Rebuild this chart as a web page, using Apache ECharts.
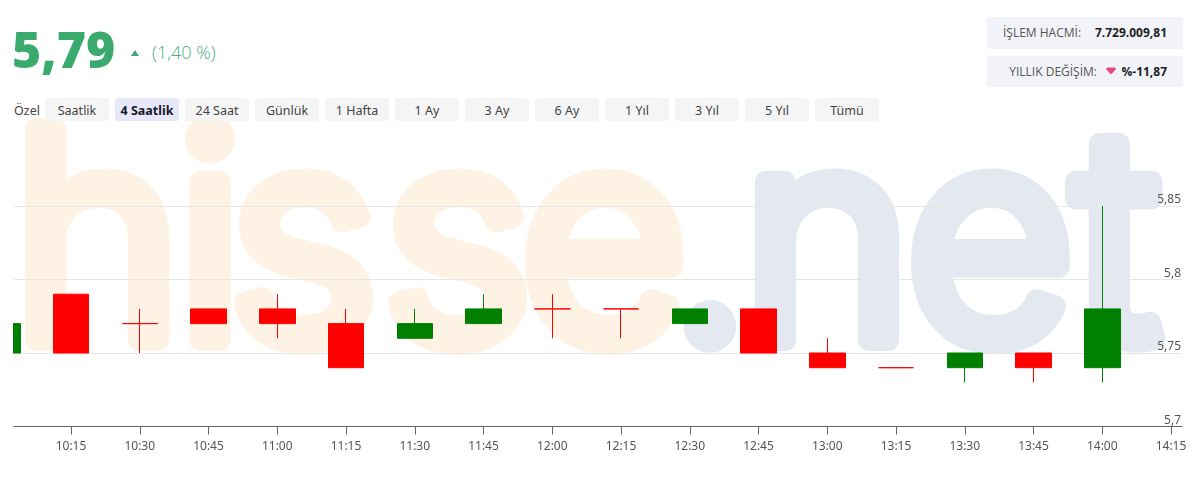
<!DOCTYPE html>
<html>
<head>
<meta charset="utf-8">
<script src="https://cdn.jsdelivr.net/npm/echarts@6/dist/echarts.min.js"></script>
<style>
  html, body { margin: 0; padding: 0; background: #fff; }
  #wrap { position: relative; width: 1200px; height: 478px; overflow: hidden; }
  #bg { position: absolute; left: 0; top: 0; }
  #chart { position: absolute; left: 13px; top: 0; width: 1187px; height: 478px; }
</style>
</head>
<body>
<div id="wrap">
<svg id="bg" width="1200" height="478" xmlns="http://www.w3.org/2000/svg">
  <!-- watermark -->
  <g font-family="Inter, 'Open Sans', sans-serif" font-weight="300" font-size="290" text-anchor="middle" stroke-width="22" stroke-linejoin="round" stroke-linecap="round">
    <g fill="#fdf2e3" stroke="#fdf2e3">
      <text x="97" y="340">h</text>
      <text x="210" y="340">i</text>
      <text x="303" y="340">s</text>
      <text x="457" y="340">s</text>
      <text x="604" y="340">e</text>
    </g>
    <g fill="#e4e9f1" stroke="#e4e9f1">
      <text x="710" y="340">.</text>
      <text x="827" y="340">n</text>
      <text x="990" y="340">e</text>
      <text x="1117" y="340">t</text>
    </g>
  </g>
  <!-- header -->
  <text x="12" y="68" font-family="'Open Sans', sans-serif" font-weight="800" font-size="50" fill="#3bab6d">5,79</text>
  <polygon points="131,56 139,56 135,50" fill="#3bab6d"/>
  <text x="152" y="58.5" font-family="'Open Sans', sans-serif" font-weight="300" font-size="18" fill="#4caf7c">(1,40 %)</text>
  <!-- right info boxes -->
  <rect x="987" y="17" width="196" height="32" rx="4" fill="#f2f3f8"/>
  <rect x="987" y="56" width="196" height="31" rx="4" fill="#f2f3f8"/>
  <text x="1003" y="37" font-family="'Open Sans', sans-serif" font-size="12" fill="#555">İŞLEM HACMİ:</text>
  <text x="1167" y="37" text-anchor="end" font-family="'Open Sans', sans-serif" font-weight="700" font-size="12" fill="#1e1e1e">7.729.009,81</text>
  <text x="1097" y="76" text-anchor="end" font-family="'Open Sans', sans-serif" font-size="12" fill="#555">YILLIK DEĞİŞİM:</text>
  <path d="M1106,69 Q1106,67.5 1108,67.5 L1114,67.5 Q1116,67.5 1116,69 L1111,74.5 Z" fill="#e8467c"/>
  <text x="1167" y="76" text-anchor="end" font-family="'Open Sans', sans-serif" font-weight="700" font-size="12" fill="#1e1e1e">%-11,87</text>
  <!-- period buttons -->
  <g id="btns" font-family="'Noto Sans', sans-serif" font-size="12.5" fill="#444"></g>
</svg>
<div id="chart"></div>
</div>
<script>
// ---- data ----
const times = ['10:00','10:15','10:30','10:45','11:00','11:15','11:30','11:45','12:00','12:15','12:30','12:45','13:00','13:15','13:30','13:45','14:00'];
const opens  = [5.75, 5.79, 5.77, 5.78, 5.78, 5.77, 5.76, 5.77, 5.78, 5.78, 5.77, 5.78, 5.75, 5.74, 5.74, 5.75, 5.74];
const closes = [5.77, 5.75, 5.77, 5.77, 5.77, 5.74, 5.77, 5.78, 5.78, 5.78, 5.78, 5.75, 5.74, 5.74, 5.75, 5.74, 5.78];
const lows   = [5.75, 5.75, 5.75, 5.77, 5.76, 5.74, 5.76, 5.77, 5.76, 5.76, 5.77, 5.75, 5.74, 5.74, 5.73, 5.73, 5.73];
const highs  = [5.77, 5.79, 5.78, 5.78, 5.79, 5.78, 5.78, 5.79, 5.79, 5.78, 5.78, 5.78, 5.76, 5.74, 5.75, 5.75, 5.85];
const tickLabels = ['10:15','10:30','10:45','11:00','11:15','11:30','11:45','12:00','12:15','12:30','12:45','13:00','13:15','13:30','13:45','14:00','14:15'];
const yTickLabels = [5.7, 5.75, 5.8, 5.85];
const buttons = ['Saatlik','4 Saatlik','24 Saat','Günlük','1 Hafta','1 Ay','3 Ay','6 Ay','1 Yıl','3 Yıl','5 Yıl','Tümü'];
const selectedButton = '4 Saatlik';

// ---- buttons ----
(function () {
  const ns = 'http://www.w3.org/2000/svg';
  const g = document.getElementById('btns');
  const t0 = document.createElementNS(ns, 'text');
  t0.setAttribute('x', 14); t0.setAttribute('y', 114.5); t0.textContent = 'Özel';
  g.appendChild(t0);
  buttons.forEach((b, i) => {
    const x = 45 + i * 70;
    const r = document.createElementNS(ns, 'rect');
    r.setAttribute('x', x); r.setAttribute('y', 98); r.setAttribute('width', 64); r.setAttribute('height', 23);
    r.setAttribute('rx', 3);
    r.setAttribute('fill', b === selectedButton ? '#e7e8fa' : '#f5f5f6');
    g.appendChild(r);
    const t = document.createElementNS(ns, 'text');
    t.setAttribute('x', x + 32); t.setAttribute('y', 114.5); t.setAttribute('text-anchor', 'middle');
    if (b === selectedButton) { t.setAttribute('font-weight', '700'); t.setAttribute('fill', '#1a1a2a'); }
    t.textContent = b;
    g.appendChild(t);
  });
})();

// ---- chart ----
const toMin = s => { const [h, m] = s.split(':').map(Number); return h * 60 + m; };
const fmtTime = v => { const h = Math.floor(v / 60), m = Math.round(v % 60); return h + ':' + String(m).padStart(2, '0'); };
const UP = '#008000', DOWN = '#ff0000';

const candleData = times.map((t, i) => {
  const up = closes[i] > opens[i];
  const c = up ? UP : DOWN;
  return { value: [toMin(t), opens[i], closes[i], lows[i], highs[i]], itemStyle: { color: c, color0: c, borderColor: c, borderColor0: c } };
});
const tickValues = tickLabels.map(toMin);

const chart = echarts.init(document.getElementById('chart'), null, { renderer: 'canvas' });
chart.setOption({
  animation: false,
  backgroundColor: 'transparent',
  grid: { left: 1, right: 18, top: 132.5, bottom: 51.5, containLabel: false },
  xAxis: {
    type: 'value',
    min: 602.56,
    max: 857.4,
    splitLine: { show: false },
    axisLine: { show: true, lineStyle: { color: '#666', width: 1 } },
    axisTick: { show: true, length: 8, lineStyle: { color: '#666' }, customValues: tickValues },
    axisLabel: {
      customValues: tickValues,
      formatter: v => fmtTime(v),
      color: '#555', fontSize: 12, fontFamily: 'Noto Sans', margin: 14
    }
  },
  yAxis: {
    type: 'value',
    position: 'right',
    min: 5.7, max: 5.9, interval: 0.05,
    axisLine: { show: false },
    axisTick: { show: false },
    splitLine: { show: true, lineStyle: { color: ['#e6e6e6', '#e6e6e6', '#e6e6e6', '#e6e6e6', 'rgba(0,0,0,0)'] } },
    axisLabel: {
      inside: true, margin: 1, verticalAlign: 'bottom',
      color: '#555', fontSize: 12, fontFamily: 'Noto Sans',
      formatter: v => {
        const r = Number(v.toFixed(2));
        return yTickLabels.some(t => Math.abs(t - r) < 1e-6) ? String(r).replace('.', ',') : '';
      }
    }
  },
  series: [{
    type: 'candlestick',
    dimensions: ['time', 'open', 'close', 'lowest', 'highest'],
    encode: { x: 'time', y: ['open', 'close', 'lowest', 'highest'] },
    barWidth: 36,
    clip: true,
    itemStyle: { color: UP, color0: DOWN, borderColor: UP, borderColor0: DOWN, borderColorDoji: DOWN, borderWidth: 1 },
    data: candleData
  }]
});
</script>
</body>
</html>
